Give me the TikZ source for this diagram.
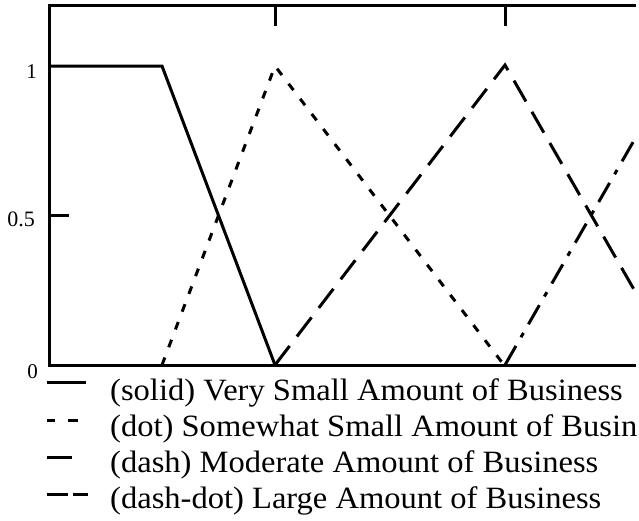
\documentclass[tikz,border=0pt]{standalone}
\usepackage{fontspec}
\setmainfont{Liberation Serif}
\begin{document}
\begin{tikzpicture}[x=1pt,y=-1pt,
  frame/.style={line width=3pt, line join=miter},
  curve/.style={line width=3pt},
  dotline/.style={curve, dash pattern=on 8pt off 11pt},
  dashline/.style={curve, dash pattern=on 24pt off 12pt},
  dashdotline/.style={curve, dash pattern=on 22pt off 10pt on 5pt off 10pt},
  legtext/.style={anchor=base west, inner sep=0pt, font=\fontsize{31}{36}\selectfont, xscale=1.05},
  ticklabel/.style={inner sep=0pt, font=\fontsize{21}{24}\selectfont}]
\useasboundingbox (0,0) rectangle (639,520);
% frame
\coordinate (tl) at (49,5);
\coordinate (tr) at (636,5);
\coordinate (bl) at (49,365);
\coordinate (br) at (636,365);
\draw[frame] (tr) -- (tl) -- (bl) -- (br);
% ticks
\coordinate (t1a) at (275,5); \coordinate (t1b) at (275,26);
\coordinate (t2a) at (505,5); \coordinate (t2b) at (505,26);
\coordinate (yha) at (49,215); \coordinate (yhb) at (69,215);
\draw[frame] (t1a) -- (t1b);
\draw[frame] (t2a) -- (t2b);
\draw[frame] (yha) -- (yhb);
% tick labels
\node[ticklabel, anchor=east] (l1) at (37,72) {1};
\node[ticklabel, anchor=east, font=\fontsize{22}{26}\selectfont] (l05) at (35,219) {0.5};
\node[ticklabel] (l0) at (32.5,371.5) {0};
% membership functions
\coordinate (s0) at (49,66); \coordinate (s1) at (162,66); \coordinate (s2) at (275,365);
\draw[curve, line join=miter] (s0) -- (s1) -- (s2);
\coordinate (d0) at (162,365); \coordinate (d1) at (275,66); \coordinate (d2) at (504,365);
\draw[dotline] (d0) -- (d1) -- (d2);
\coordinate (m0) at (275,365); \coordinate (m1) at (505,65); \coordinate (m2) at (636,293);
\draw[dashline] (m0) -- (m1) -- (m2);
\coordinate (g0) at (505,365); \coordinate (g1) at (636,137);
\draw[dashdotline] (g0) -- (g1);
% legend markers
\coordinate (k1a) at (47,382); \coordinate (k1b) at (86,382);
\draw[curve] (k1a) -- (k1b);
\coordinate (k2a) at (47,420); \coordinate (k2b) at (55,420);
\coordinate (k2c) at (68,420); \coordinate (k2d) at (78,420);
\draw[curve] (k2a) -- (k2b) (k2c) -- (k2d);
\coordinate (k3a) at (47,457); \coordinate (k3b) at (72,457);
\draw[curve] (k3a) -- (k3b);
\coordinate (k4a) at (47,494); \coordinate (k4b) at (68,494);
\coordinate (k4c) at (73,494); \coordinate (k4d) at (88,494);
\draw[curve] (k4a) -- (k4b) (k4c) -- (k4d);
% legend texts
\node[legtext] (t1) at (110,400) {(solid) Very Small Amount of Business};
\node[legtext] (t2) at (110,436) {(dot) Somewhat Small Amount of Busin};
\node[legtext] (t3) at (110,472) {(dash) Moderate Amount of Business};
\node[legtext] (t4) at (110,508) {(dash-dot) Large Amount of Business};
\end{tikzpicture}
\end{document}
